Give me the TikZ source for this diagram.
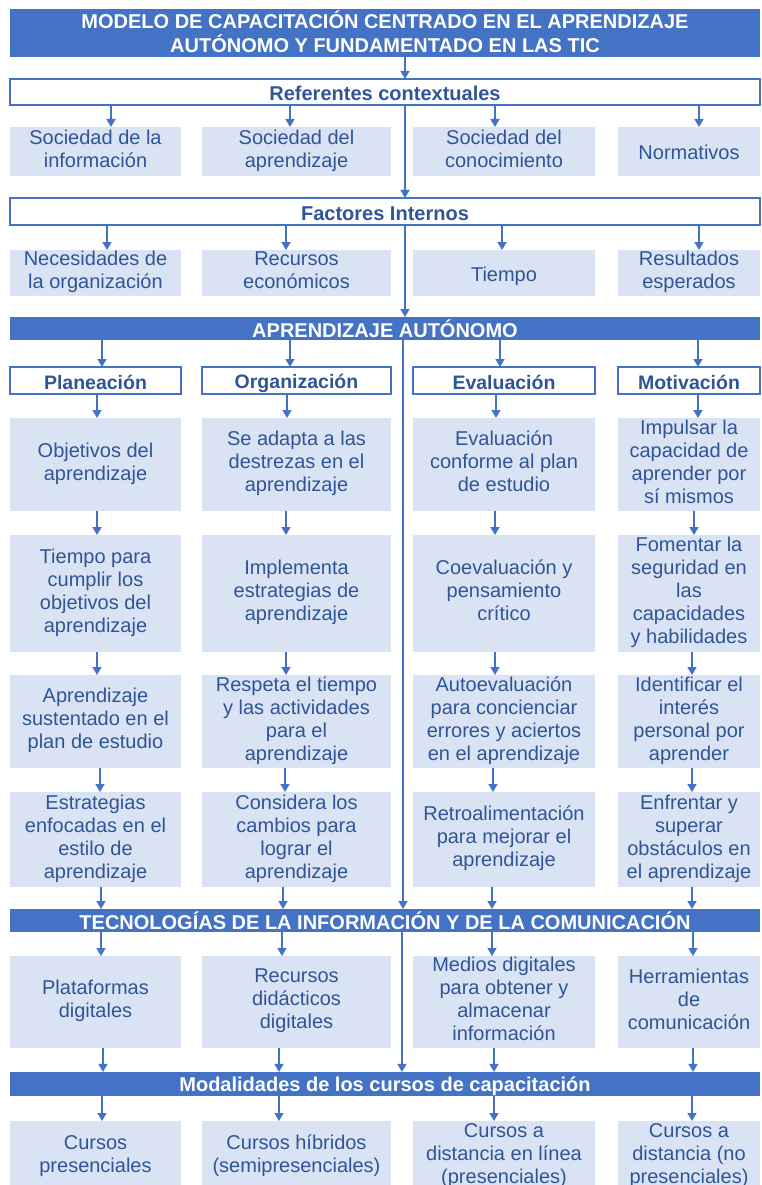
\documentclass[tikz,border=0pt]{standalone}
\usepackage{fontspec}
\setmainfont{Liberation Sans}
\usetikzlibrary{arrows.meta}
\definecolor{dblue}{HTML}{4472C4}
\definecolor{lblue}{HTML}{DAE3F3}
\definecolor{tblue}{HTML}{2F5597}
\newcommand\mystrut{\rule[-3pt]{0pt}{23pt}}
\newcommand\boxstrut{\rule[-6pt]{0pt}{28pt}}
\tikzset{
  base/.style={inner sep=0pt, outer sep=0pt, align=center, font=\fontsize{20}{23}\selectfont},
  sA/.style={execute at begin node=\mystrut, execute at end node=\mystrut},
  sB/.style={execute at begin node=\boxstrut, execute at end node=\boxstrut},
  bar/.style={base, sA, fill=dblue, text=white, font=\fontsize{20}{24.5}\selectfont\bfseries, minimum width=750pt},
  wbox/.style={base, sA, draw=dblue, line width=1.5pt, fill=white, text=tblue, font=\fontsize{20}{23}\selectfont\bfseries, minimum width=750pt},
  hbox/.style={base, sA, draw=dblue, line width=2pt, fill=white, text=tblue, font=\fontsize{19.5}{23}\selectfont\bfseries},
  lbox/.style={base, sB, fill=lblue, text=tblue},
  cA/.style={minimum width=171pt},
  cB/.style={minimum width=189pt},
  cC/.style={minimum width=182pt},
  cD/.style={minimum width=142pt},
  arr/.style={draw=dblue, line width=1.5pt, -{Triangle[length=8pt,width=9pt]}},
}
\begin{document}
\begin{tikzpicture}[x=1pt,y=-1pt]
\useasboundingbox (0,0) rectangle (761,1185);
\clip (0,0) rectangle (761,1185);
% bars
\node[bar, minimum height=48pt] (title) at (385,33) {MODELO DE CAPACITACIÓN CENTRADO EN EL APRENDIZAJE\\AUTÓNOMO Y FUNDAMENTADO EN LAS TIC};
\node[wbox, minimum height=26pt] (ref) at (385,92) {Referentes contextuales};
\node[wbox, minimum height=27pt] (fac) at (385,211.5) {Factores Internos};
\node[bar, minimum height=21pt] (apr) at (385,328.5) {APRENDIZAJE AUTÓNOMO};
\node[bar, minimum height=23pt] (tic) at (385,920.5) {TECNOLOGÍAS DE LA INFORMACIÓN Y DE LA COMUNICACIÓN};
\node[bar, minimum height=22pt] (mod) at (385,1084) {Modalidades de los cursos de capacitación};
% row 1
\node[lbox, cA, minimum height=49pt] (r1a) at (95.5,151.5) {Sociedad de la\\información};
\node[lbox, cB, minimum height=49pt] (r1b) at (296.5,151.5) {Sociedad del\\aprendizaje};
\node[lbox, cC, minimum height=49pt] (r1c) at (504,151.5) {Sociedad del\\conocimiento};
\node[lbox, cD, minimum height=49pt] (r1d) at (689,151.5) {Normativos};
% row 2
\node[lbox, cA, minimum height=46pt] (r2a) at (95.5,273) {Necesidades de\\la organización};
\node[lbox, cB, minimum height=46pt] (r2b) at (296.5,273) {Recursos\\económicos};
\node[lbox, cC, minimum height=46pt] (r2c) at (504,273) {Tiempo};
\node[lbox, cD, minimum height=46pt] (r2d) at (689,273) {Resultados\\esperados};
% headers
\node[hbox, cA, minimum height=27pt] (ha) at (95.5,380.5) {Planeación};
\node[hbox, cB, minimum height=27pt] (hb) at (296.5,380.5) {Organización};
\node[hbox, cC, minimum height=27pt] (hc) at (504,380.5) {Evaluación};
\node[hbox, cD, minimum height=27pt] (hd) at (689,380.5) {Motivación};
% row A
\node[lbox, cA, minimum height=93pt] (aa) at (95.5,464.5) {Objetivos del\\aprendizaje};
\node[lbox, cB, minimum height=93pt] (ab) at (296.5,464.5) {Se adapta a las\\destrezas en el\\aprendizaje};
\node[lbox, cC, minimum height=93pt] (ac) at (504,464.5) {Evaluación\\conforme al plan\\de estudio};
\node[lbox, cD, minimum height=93pt] (ad) at (689,464.5) {Impulsar la\\capacidad de\\aprender por\\sí mismos};
% row B
\node[lbox, cA, minimum height=117pt] (ba) at (95.5,593.5) {Tiempo para\\cumplir los\\objetivos del\\aprendizaje};
\node[lbox, cB, minimum height=117pt] (bb) at (296.5,593.5) {Implementa\\estrategias de\\aprendizaje};
\node[lbox, cC, minimum height=117pt] (bc) at (504,593.5) {Coevaluación y\\pensamiento\\crítico};
\node[lbox, cD, minimum height=117pt] (bd) at (689,593.5) {Fomentar la\\seguridad en\\las\\capacidades\\y habilidades};
% row C
\node[lbox, cA, minimum height=93pt] (ca) at (95.5,721.5) {Aprendizaje\\sustentado en el\\plan de estudio};
\node[lbox, cB, minimum height=93pt] (cb) at (296.5,721.5) {Respeta el tiempo\\y las actividades\\para el\\aprendizaje};
\node[lbox, cC, minimum height=93pt] (cc) at (504,721.5) {Autoevaluación\\para concienciar\\errores y aciertos\\en el aprendizaje};
\node[lbox, cD, minimum height=93pt] (cd) at (689,721.5) {Identificar el\\interés\\personal por\\aprender};
% row D
\node[lbox, cA, minimum height=95pt] (da) at (95.5,839.5) {Estrategias\\enfocadas en el\\estilo de\\aprendizaje};
\node[lbox, cB, minimum height=95pt] (db) at (296.5,839.5) {Considera los\\cambios para\\lograr el\\aprendizaje};
\node[lbox, cC, minimum height=95pt] (dc) at (504,839.5) {Retroalimentación\\para mejorar el\\aprendizaje};
\node[lbox, cD, minimum height=95pt] (dd) at (689,839.5) {Enfrentar y\\superar\\obstáculos en\\el aprendizaje};
% TIC row
\node[lbox, cA, minimum height=92pt] (ta) at (95.5,1002) {Plataformas\\digitales};
\node[lbox, cB, minimum height=92pt] (tb) at (296.5,1002) {Recursos\\didácticos\\digitales};
\node[lbox, cC, minimum height=92pt] (tc) at (504,1002) {Medios digitales\\para obtener y\\almacenar\\información};
\node[lbox, cD, minimum height=92pt] (td) at (689,1002) {Herramientas\\de\\comunicación};
% bottom row
\node[lbox, cA, minimum height=72pt] (ma) at (95.5,1157) {Cursos\\presenciales};
\node[lbox, cB, minimum height=72pt] (mb) at (296.5,1157) {Cursos híbridos\\(semipresenciales)};
\node[lbox, cC, minimum height=72pt] (mc) at (504,1157) {Cursos a\\distancia en línea\\(presenciales)};
\node[lbox, cD, minimum height=72pt] (md) at (689,1157) {Cursos a\\distancia (no\\presenciales)};
% central spine
\draw[arr] (title.south -| 405,0) -- (ref.north -| 405,0);
\draw[arr] (ref.south -| 405,0) -- (fac.north -| 405,0);
\draw[arr] (fac.south -| 405,0) -- (apr.north -| 405,0);
\draw[arr] (apr.south -| 403,0) -- (tic.north -| 403,0);
\draw[arr] (tic.south -| 402,0) -- (mod.north -| 402,0);
% ref -> row1
\draw[arr] (ref.south -| 111,0) -- (r1a.north -| 111,0);
\draw[arr] (ref.south -| 290,0) -- (r1b.north -| 290,0);
\draw[arr] (ref.south -| 495,0) -- (r1c.north -| 495,0);
\draw[arr] (ref.south -| 699,0) -- (r1d.north -| 699,0);
% fac -> row2
\draw[arr] (fac.south -| 107,0) -- (r2a.north -| 107,0);
\draw[arr] (fac.south -| 286,0) -- (r2b.north -| 286,0);
\draw[arr] (fac.south -| 502,0) -- (r2c.north -| 502,0);
\draw[arr] (fac.south -| 699,0) -- (r2d.north -| 699,0);
% apr -> headers
\draw[arr] (apr.south -| 102,0) -- (ha.north -| 102,0);
\draw[arr] (apr.south -| 290,0) -- (hb.north -| 290,0);
\draw[arr] (apr.south -| 500,0) -- (hc.north -| 500,0);
\draw[arr] (apr.south -| 698,0) -- (hd.north -| 698,0);
% headers -> A
\draw[arr] (ha.south -| 97,0) -- (aa.north -| 97,0);
\draw[arr] (hb.south -| 287,0) -- (ab.north -| 287,0);
\draw[arr] (hc.south -| 496,0) -- (ac.north -| 496,0);
\draw[arr] (hd.south -| 698,0) -- (ad.north -| 698,0);
% A -> B
\draw[arr] (aa.south -| 97,0) -- (ba.north -| 97,0);
\draw[arr] (ab.south -| 286,0) -- (bb.north -| 286,0);
\draw[arr] (ac.south -| 495,0) -- (bc.north -| 495,0);
\draw[arr] (ad.south -| 694,0) -- (bd.north -| 694,0);
% B -> C
\draw[arr] (ba.south -| 97,0) -- (ca.north -| 97,0);
\draw[arr] (bb.south -| 286,0) -- (cb.north -| 286,0);
\draw[arr] (bc.south -| 495,0) -- (cc.north -| 495,0);
\draw[arr] (bd.south -| 692,0) -- (cd.north -| 692,0);
% C -> D
\draw[arr] (ca.south -| 100,0) -- (da.north -| 100,0);
\draw[arr] (cb.south -| 285,0) -- (db.north -| 285,0);
\draw[arr] (cc.south -| 493,0) -- (dc.north -| 493,0);
\draw[arr] (cd.south -| 692,0) -- (dd.north -| 692,0);
% D -> tic
\draw[arr] (da.south -| 101,0) -- (tic.north -| 101,0);
\draw[arr] (db.south -| 283,0) -- (tic.north -| 283,0);
\draw[arr] (dc.south -| 492,0) -- (tic.north -| 492,0);
\draw[arr] (dd.south -| 692,0) -- (tic.north -| 692,0);
% tic -> T
\draw[arr] (tic.south -| 101,0) -- (ta.north -| 101,0);
\draw[arr] (tic.south -| 282,0) -- (tb.north -| 282,0);
\draw[arr] (tic.south -| 492,0) -- (tc.north -| 492,0);
\draw[arr] (tic.south -| 693,0) -- (td.north -| 693,0);
% T -> mod
\draw[arr] (ta.south -| 103,0) -- (mod.north -| 103,0);
\draw[arr] (tb.south -| 279,0) -- (mod.north -| 279,0);
\draw[arr] (tc.south -| 494,0) -- (mod.north -| 494,0);
\draw[arr] (td.south -| 693,0) -- (mod.north -| 693,0);
% mod -> bottom
\draw[arr] (mod.south -| 102,0) -- (ma.north -| 102,0);
\draw[arr] (mod.south -| 279,0) -- (mb.north -| 279,0);
\draw[arr] (mod.south -| 494,0) -- (mc.north -| 494,0);
\draw[arr] (mod.south -| 692,0) -- (md.north -| 692,0);
\end{tikzpicture}
\end{document}
